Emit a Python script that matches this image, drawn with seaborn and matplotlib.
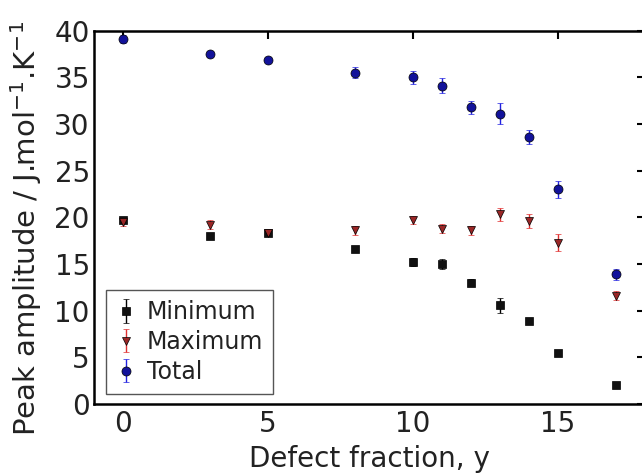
import matplotlib
matplotlib.use("Agg")
import matplotlib.pyplot as plt
import seaborn as sns
import pandas as pd

defect = [0, 3, 5, 8, 10, 11, 12, 13, 14, 15, 17]
minimum = [19.7, 18.0, 18.3, 16.6, 15.2, 15.0, 13.0, 10.6, 8.9, 5.5, 2.0]
minimum_err = [0.3, 0.3, 0.3, 0.3, 0.4, 0.5, 0.4, 0.8, 0.3, 0.3, 0.2]
maximum = [19.5, 19.2, 18.3, 18.6, 19.7, 18.8, 18.6, 20.3, 19.6, 17.3, 11.6]
maximum_err = [0.4, 0.5, 0.3, 0.5, 0.4, 0.5, 0.5, 0.7, 0.7, 0.9, 0.5]
total = [39.1, 37.5, 36.9, 35.5, 35.0, 34.1, 31.8, 31.1, 28.6, 23.0, 13.9]
total_err = [0.4, 0.3, 0.3, 0.55, 0.7, 0.8, 0.7, 1.1, 0.8, 0.9, 0.6]

series = [
    ("Minimum", minimum, minimum_err, "#111111", "k", "s", 5.3),
    ("Maximum", maximum, maximum_err, "#9a2626", "#e03030", "v", 6),
    ("Total", total, total_err, "#12129a", "#2020e0", "o", 6.5),
]

sns.set_style("white")
plt.rcParams["font.family"] = ["DejaVu Sans"]
plt.rcParams["mathtext.fontset"] = "dejavusans"

fig = plt.figure(figsize=(6.42, 4.76), dpi=100)
ax = fig.add_axes([94 / 642, 1 - 404 / 476, (645 - 94) / 642, (404 - 30.6) / 476])

for name, vals, errs, fc, ec, mk, ms in series:
    df = pd.DataFrame({"x": defect, "y": vals, "e": errs})
    ax.errorbar(df["x"], df["y"], yerr=df["e"], fmt=mk, color=fc, ecolor=ec,
                markerfacecolor=fc, markeredgecolor="k", markeredgewidth=0.5,
                markersize=ms, capsize=2.5, elinewidth=1, capthick=1, label=name)

ax.set_xlim(-1, 18)
ax.set_ylim(0, 40)
ax.set_xticks([0, 5, 10, 15])
ax.set_yticks(range(0, 41, 5))
ax.tick_params(direction="in", length=5.5, width=1.5, top=True, right=True,
               labelsize=20, colors="k", labelcolor="#222222")
ax.tick_params(axis="y", pad=3)
ax.tick_params(axis="x", pad=4)
for s in ax.spines.values():
    s.set_linewidth(1.8)
    s.set_color("k")

ax.set_xlabel("Defect fraction, y", fontsize=20, color="#222222", labelpad=5.5)
ax.set_ylabel(r"Peak amplitude / J.mol$^{-1}$.K$^{-1}$", fontsize=21,
              color="#222222")
ax.yaxis.set_label_coords((44 - 94) / 551, (404 - 228) / 373.4)

leg = ax.legend(loc="lower left", bbox_to_anchor=((106 - 94) / 551, (404 - 394) / 373.4),
                borderaxespad=0, fontsize=17, numpoints=1, handlelength=0.8,
                handletextpad=0.5, fancybox=False, framealpha=1, borderpad=0.43,
                labelspacing=0.25)
leg.get_frame().set_edgecolor("#555555")
leg.get_frame().set_linewidth(1.0)
for t in leg.get_texts():
    t.set_color("#222222")

fig.savefig("out.png", dpi=100)
